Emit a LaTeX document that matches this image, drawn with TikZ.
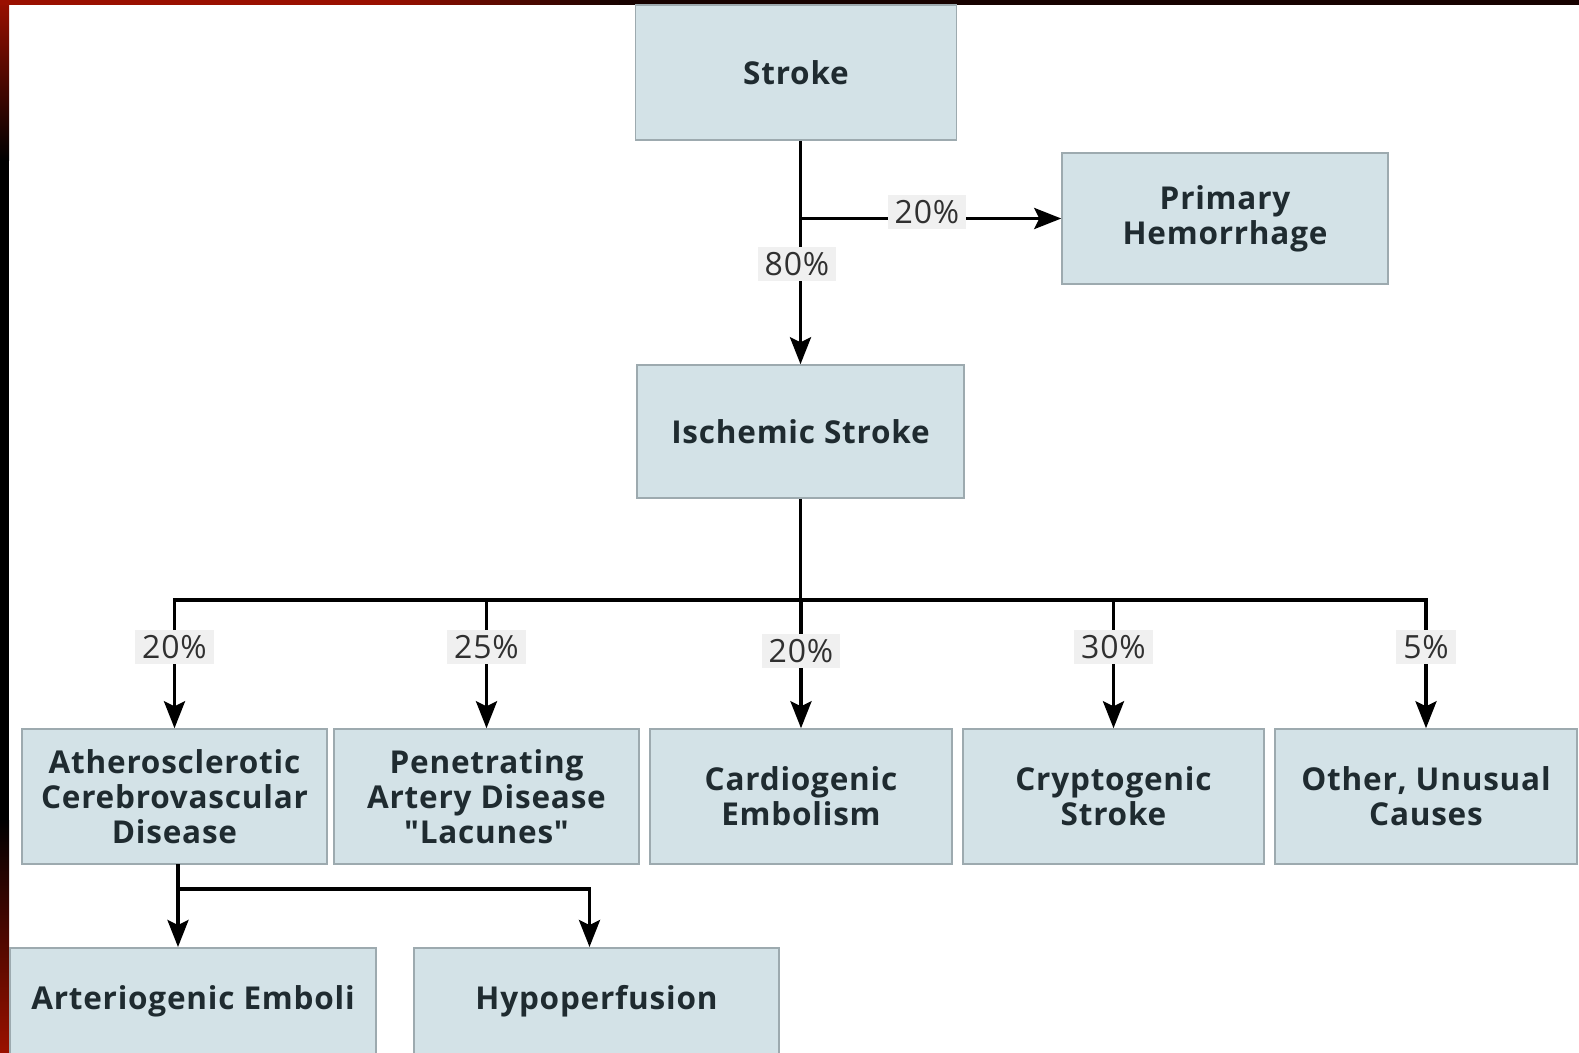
\documentclass[tikz,border=0pt]{standalone}
\usepackage{fontspec}
\setmainfont{Open Sans}[Ligatures=TeXOff, LetterSpace=2.5]
\usetikzlibrary{arrows.meta,calc}
\definecolor{boxfill}{HTML}{D3E2E7}
\definecolor{boxline}{HTML}{9DAAAF}
\definecolor{txt}{HTML}{1F2B30}
\definecolor{lblbg}{HTML}{F0F0F0}
\definecolor{lbltxt}{HTML}{303030}
\definecolor{darkred}{HTML}{9A1000}
\begin{document}
\begin{tikzpicture}[x=1pt,y=-1pt,
  box/.style={draw=boxline, line width=1.5pt, fill=boxfill, text=txt, align=center, inner sep=0pt,
    font=\fontsize{31.5}{35}\selectfont\bfseries},
  pct/.style={fill=lblbg, text=lbltxt, inner xsep=7pt, inner ysep=5pt,
    font=\fontsize{32}{35}\selectfont},
  conn/.style={line width=3.5pt, draw=black},
  arr/.style={conn, -{Stealth[length=27pt,width=21pt,inset=5pt]}}]
\clip (0,0) rectangle (1579,1052);
\fill[white] (0,0) rectangle (1579,1052);
% frame strips
\shade[top color=darkred, bottom color=black] (0,0) rectangle (9,160);
\fill[black] (0,160) rectangle (9,820);
\shade[top color=black, bottom color=darkred] (0,820) rectangle (9,1052);
\fill[darkred] (0,0) rectangle (381,5);
\foreach \i in {0,...,11}{
  \pgfmathsetmacro{\pc}{100-\i*7.5}
  \fill[darkred!\pc!black] (380+\i*20,0) rectangle (401+\i*20,5);
}
\fill[black!85!darkred] (619,0) rectangle (1579,5);

% boxes
\node[box, minimum width=321, minimum height=135] (stroke) at (796,72.5) {Stroke};
\node[box, minimum width=326, minimum height=131] (hem) at (1225,218.5) {Primary\\Hemorrhage};
\node[box, minimum width=327, minimum height=133] (isch) at (800.5,431.5) {Ischemic Stroke};

\node[box, minimum width=305, minimum height=135] (ath) at (174.5,796.5) {Atherosclerotic\\Cerebrovascular\\Disease};
\node[box, minimum width=305, minimum height=135] (pen) at (486.5,796.5) {Penetrating\\Artery Disease\\"Lacunes"};
\node[box, minimum width=302, minimum height=135] (card) at (801,796.5) {Cardiogenic\\Embolism};
\node[box, minimum width=301, minimum height=135] (cry) at (1113.5,796.5) {Cryptogenic\\Stroke};
\node[box, minimum width=302, minimum height=135] (oth) at (1426,796.5) {Other, Unusual\\Causes};

\node[box, anchor=north, minimum width=366, minimum height=133, text height=22pt, text depth=31pt] (art) at (193,947) {Arteriogenic Emboli};
\node[box, anchor=north, minimum width=365, minimum height=133, text height=22pt, text depth=31pt] (hyp) at (596.5,947) {Hypoperfusion};

% connectors top
\coordinate (t0) at (isch.north |- stroke.south);
\coordinate (j1) at (isch.north |- hem.west);
\draw[conn] (t0) -- (j1);
\draw[arr] (j1) -- (hem.west);
\draw[arr] (j1) -- (isch.north);
\node[pct] (p80) at (797,264) {80\%};
\node[pct] (p20a) at (927,212) {20\%};

% bus
\coordinate (bus) at (isch.south |- 0,600);
\coordinate (busL) at (ath.north |- bus);
\coordinate (busR) at (oth.north |- bus);
\draw[conn] (isch.south) -- (bus);
\draw[conn] ([xshift=-1.75pt]busL) -- ([xshift=1.75pt]busR);
\foreach \b in {ath,pen,card,cry,oth}{
  \draw[arr] (\b.north |- bus) -- (\b.north);
}
\node[pct] (pa) at (ath.north |- 0,647) {20\%};
\node[pct] (pp) at (pen.north |- 0,647) {25\%};
\node[pct] (pc) at (card.north |- 0,651) {20\%};
\node[pct] (pcr) at (cry.north |- 0,647) {30\%};
\node[pct] (po) at (oth.north |- 0,647) {5\%};

% lower branch
\coordinate (a0) at (178,864);
\coordinate (j2) at (178,889);
\draw[arr] (a0) -- (a0 |- art.north);
\draw[arr] (j2) -| ([xshift=-7pt]hyp.north);
\end{tikzpicture}
\end{document}
